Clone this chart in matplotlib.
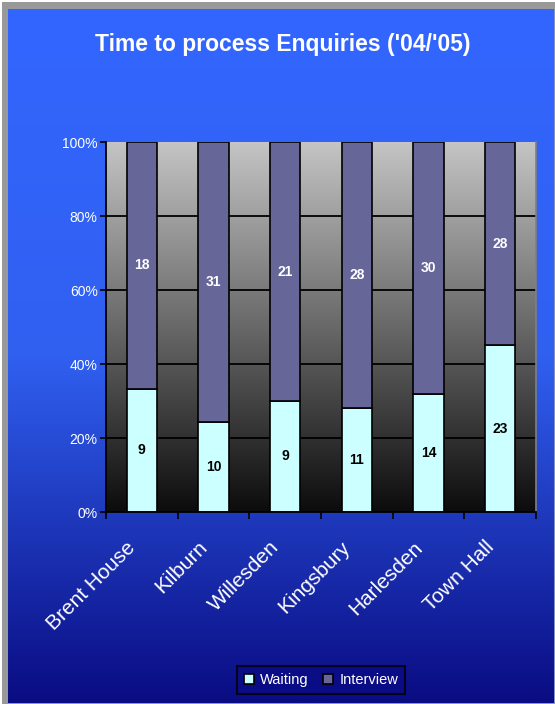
import numpy as np
import matplotlib
matplotlib.use("Agg")
from matplotlib import pyplot as plt
from matplotlib.colors import LinearSegmentedColormap
from matplotlib.patches import Rectangle
from matplotlib.transforms import ScaledTranslation

plt.rcParams['font.family'] = ['Liberation Sans', 'DejaVu Sans']

# enquiry counts per office
offices = ['Brent House', 'Kilburn', 'Willesden', 'Kingsbury', 'Harlesden', 'Town Hall']
waiting = [9, 10, 9, 11, 14, 23]
interview = [18, 31, 21, 28, 30, 28]

waiting_col = '#CCFFFF'
interview_col = '#666699'

W, H = 555, 704
fig = plt.figure(figsize=(W / 100, H / 100), dpi=100)
fig.patch.set_facecolor('white')

# outer frame and blue gradient background
bg = fig.add_axes([0, 0, 1, 1])
bg.axis('off')
bg.add_patch(Rectangle((2, 2), W - 2, H - 2, color='#999999', lw=0, zorder=0))
blue = LinearSegmentedColormap.from_list('bg', ['#3366FF', '#3060F0', '#0A0C82'])
grad = np.linspace(0, 1, 256).reshape(-1, 1)
bg.imshow(grad, cmap=blue, extent=(8, W - 1, H - 1, 9), aspect='auto', zorder=1)
bg.add_patch(Rectangle((W - 1, 9), 1, H - 10, color='#8090C8', lw=0, zorder=2))
bg.set_xlim(0, W)
bg.set_ylim(H, 0)

fig.text(283 / W, 1 - 44 / H, "Time to process Enquiries ('04/'05)",
         color='white', fontsize=16.5, fontweight='bold', ha='center', va='center')

ax = fig.add_axes([106 / W, 1 - 512 / H, 430 / W, 370 / H])
ax.set_xlim(-0.5, len(offices) - 0.5)
ax.set_ylim(0, 100)

# grey plot-area gradient
gray = LinearSegmentedColormap.from_list('pa', ['#0C0C0C', '#C4C4C4'])
ax.imshow(grad, cmap=gray, origin='lower', extent=(-0.5, len(offices) - 0.5, 0, 100),
          aspect='auto', zorder=0)

for y in [20, 40, 60, 80]:
    ax.axhline(y, color='black', lw=1.3, zorder=1)

totals = np.array(waiting) + np.array(interview)
w_pct = np.array(waiting) / totals * 100
i_pct = np.array(interview) / totals * 100
x = np.arange(len(offices))

ax.bar(x, w_pct, width=0.42, color=waiting_col, edgecolor='black', lw=1.2, zorder=2)
ax.bar(x, i_pct, width=0.42, bottom=w_pct, color=interview_col, edgecolor='black', lw=1.2, zorder=2)

for i in range(len(offices)):
    ax.text(x[i], w_pct[i] / 2, str(waiting[i]), ha='center', va='center',
            fontsize=10, fontweight='bold', color='black', zorder=3)
    ax.text(x[i], w_pct[i] + i_pct[i] / 2, str(interview[i]), ha='center', va='center',
            fontsize=10, fontweight='bold', color='white', zorder=3)

ax.set_yticks([0, 20, 40, 60, 80, 100])
ax.set_yticklabels(['0%', '20%', '40%', '60%', '80%', '100%'])
ax.set_xticks(np.arange(-0.5, len(offices)), minor=True)
ax.set_xticks(x)
ax.set_xticklabels(offices, rotation=45, ha='right', rotation_mode='anchor')
ax.tick_params(axis='x', which='major', length=0, pad=20, labelsize=15, colors='white')
ax.tick_params(axis='x', which='minor', length=5, width=1.2, color='black', direction='out')
ax.tick_params(axis='y', length=4, width=1.2, color='black', labelsize=10,
               labelcolor='white', pad=2)
# nudge the slanted office names left
shift = ScaledTranslation(-16 / 100, 2 / 100, fig.dpi_scale_trans)
for lab in ax.get_xticklabels():
    lab.set_transform(lab.get_transform() + shift)

for side in ['left', 'bottom']:
    ax.spines[side].set_color('black')
    ax.spines[side].set_linewidth(1.3)
ax.spines['top'].set_visible(False)
ax.spines['right'].set_color('#808080')
ax.spines['right'].set_linewidth(1.2)

handles = [Rectangle((0, 0), 1, 1, facecolor=waiting_col, edgecolor='black', lw=1.2),
           Rectangle((0, 0), 1, 1, facecolor=interview_col, edgecolor='black', lw=1.2)]
leg = fig.legend(handles, ['Waiting', 'Interview'], loc='center',
                 bbox_to_anchor=(321 / W, 1 - 680 / H), ncol=2, fontsize=10.5,
                 frameon=True, fancybox=False, handlelength=0.7, handleheight=0.7,
                 handletextpad=0.4, columnspacing=1.0, borderpad=0.5)
leg.get_frame().set_facecolor('#0A0C85')
leg.get_frame().set_edgecolor('black')
leg.get_frame().set_linewidth(1.5)
for t in leg.get_texts():
    t.set_color('white')

fig.savefig('out.png', dpi=100)
